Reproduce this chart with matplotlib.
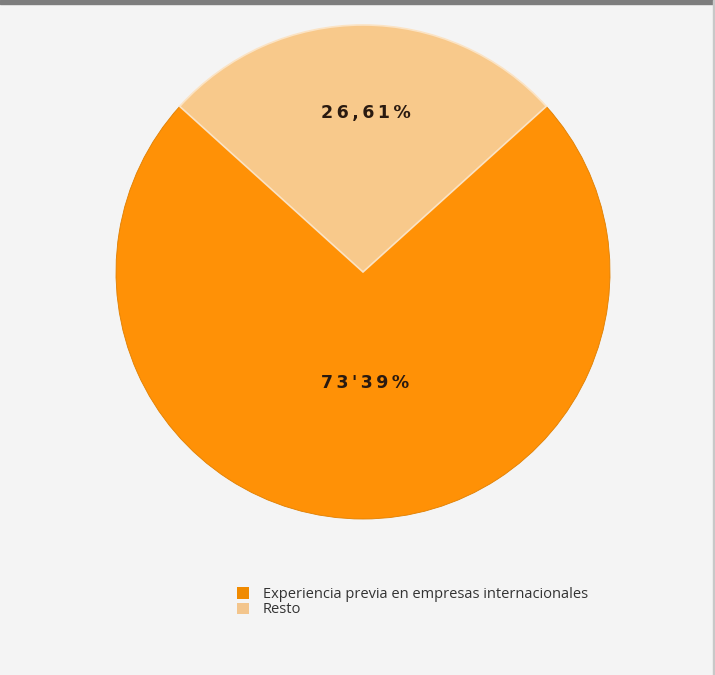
import numpy as np
import matplotlib.pyplot as plt
from matplotlib.patches import Patch

categories = ["Experiencia previa en empresas internacionales", "Resto"]
values = [73.39, 26.61]
value_labels = ["73'39%", "26,61%"]
colors = ["#ff9106", "#f8c98b"]
legend_colors = ["#f08a00", "#f3c58c"]
label_radius = [0.45, 0.645]

fig = plt.figure(figsize=(7.15, 6.75), dpi=100)
fig.patch.set_facecolor("#f4f4f4")

# thin grey band along the top edge
fig.add_artist(plt.Rectangle((0, 1 - 4 / 675), 1, 4 / 675, transform=fig.transFigure,
                             color="#7d7d7d", zorder=5))
fig.add_artist(plt.Rectangle((1 - 2 / 715, 0), 2 / 715, 1, transform=fig.transFigure,
                             color="#c8c8c8", zorder=5))

cx, cy, r = 363, 272, 247
ax = fig.add_axes([(cx - r) / 715, 1 - (cy + r) / 675, 2 * r / 715, 2 * r / 675])
ax.set_facecolor("none")

start = 90 + values[1] * 3.6 / 2
wedges, _ = ax.pie(values, colors=colors, startangle=start, counterclock=True,
                   radius=1.0, wedgeprops=dict(edgecolor="#fbe3c4", linewidth=1.2))
wedges[0].set_edgecolor("#e07f00")
wedges[0].set_linewidth(0.6)
wedges[1].set_zorder(3)
ax.set_xlim(-1, 1)
ax.set_ylim(-1, 1)
ax.set_aspect("equal")
ax.axis("off")

for w, lab, rad in zip(wedges, value_labels, label_radius):
    mid = np.deg2rad((w.theta1 + w.theta2) / 2)
    spaced = "\u2009".join(lab)
    ax.text(rad * np.cos(mid) + 0.01, rad * np.sin(mid), spaced, ha="center", va="center",
            fontsize=12.5, fontweight="bold", color="#2a1a10", family="DejaVu Sans")

handles = [Patch(facecolor=c, edgecolor="none", label=l) for c, l in zip(legend_colors, categories)]
fig.legend(handles=handles, loc="upper left", bbox_to_anchor=(224 / 715, 1 - 574 / 675),
           frameon=False, handlelength=0.8, handleheight=0.8,
           handletextpad=0.95, labelspacing=0.02, labelcolor="#333333",
           prop={"family": "Open Sans", "size": 10.5})

fig.savefig("out.png", dpi=100, facecolor=fig.get_facecolor())
